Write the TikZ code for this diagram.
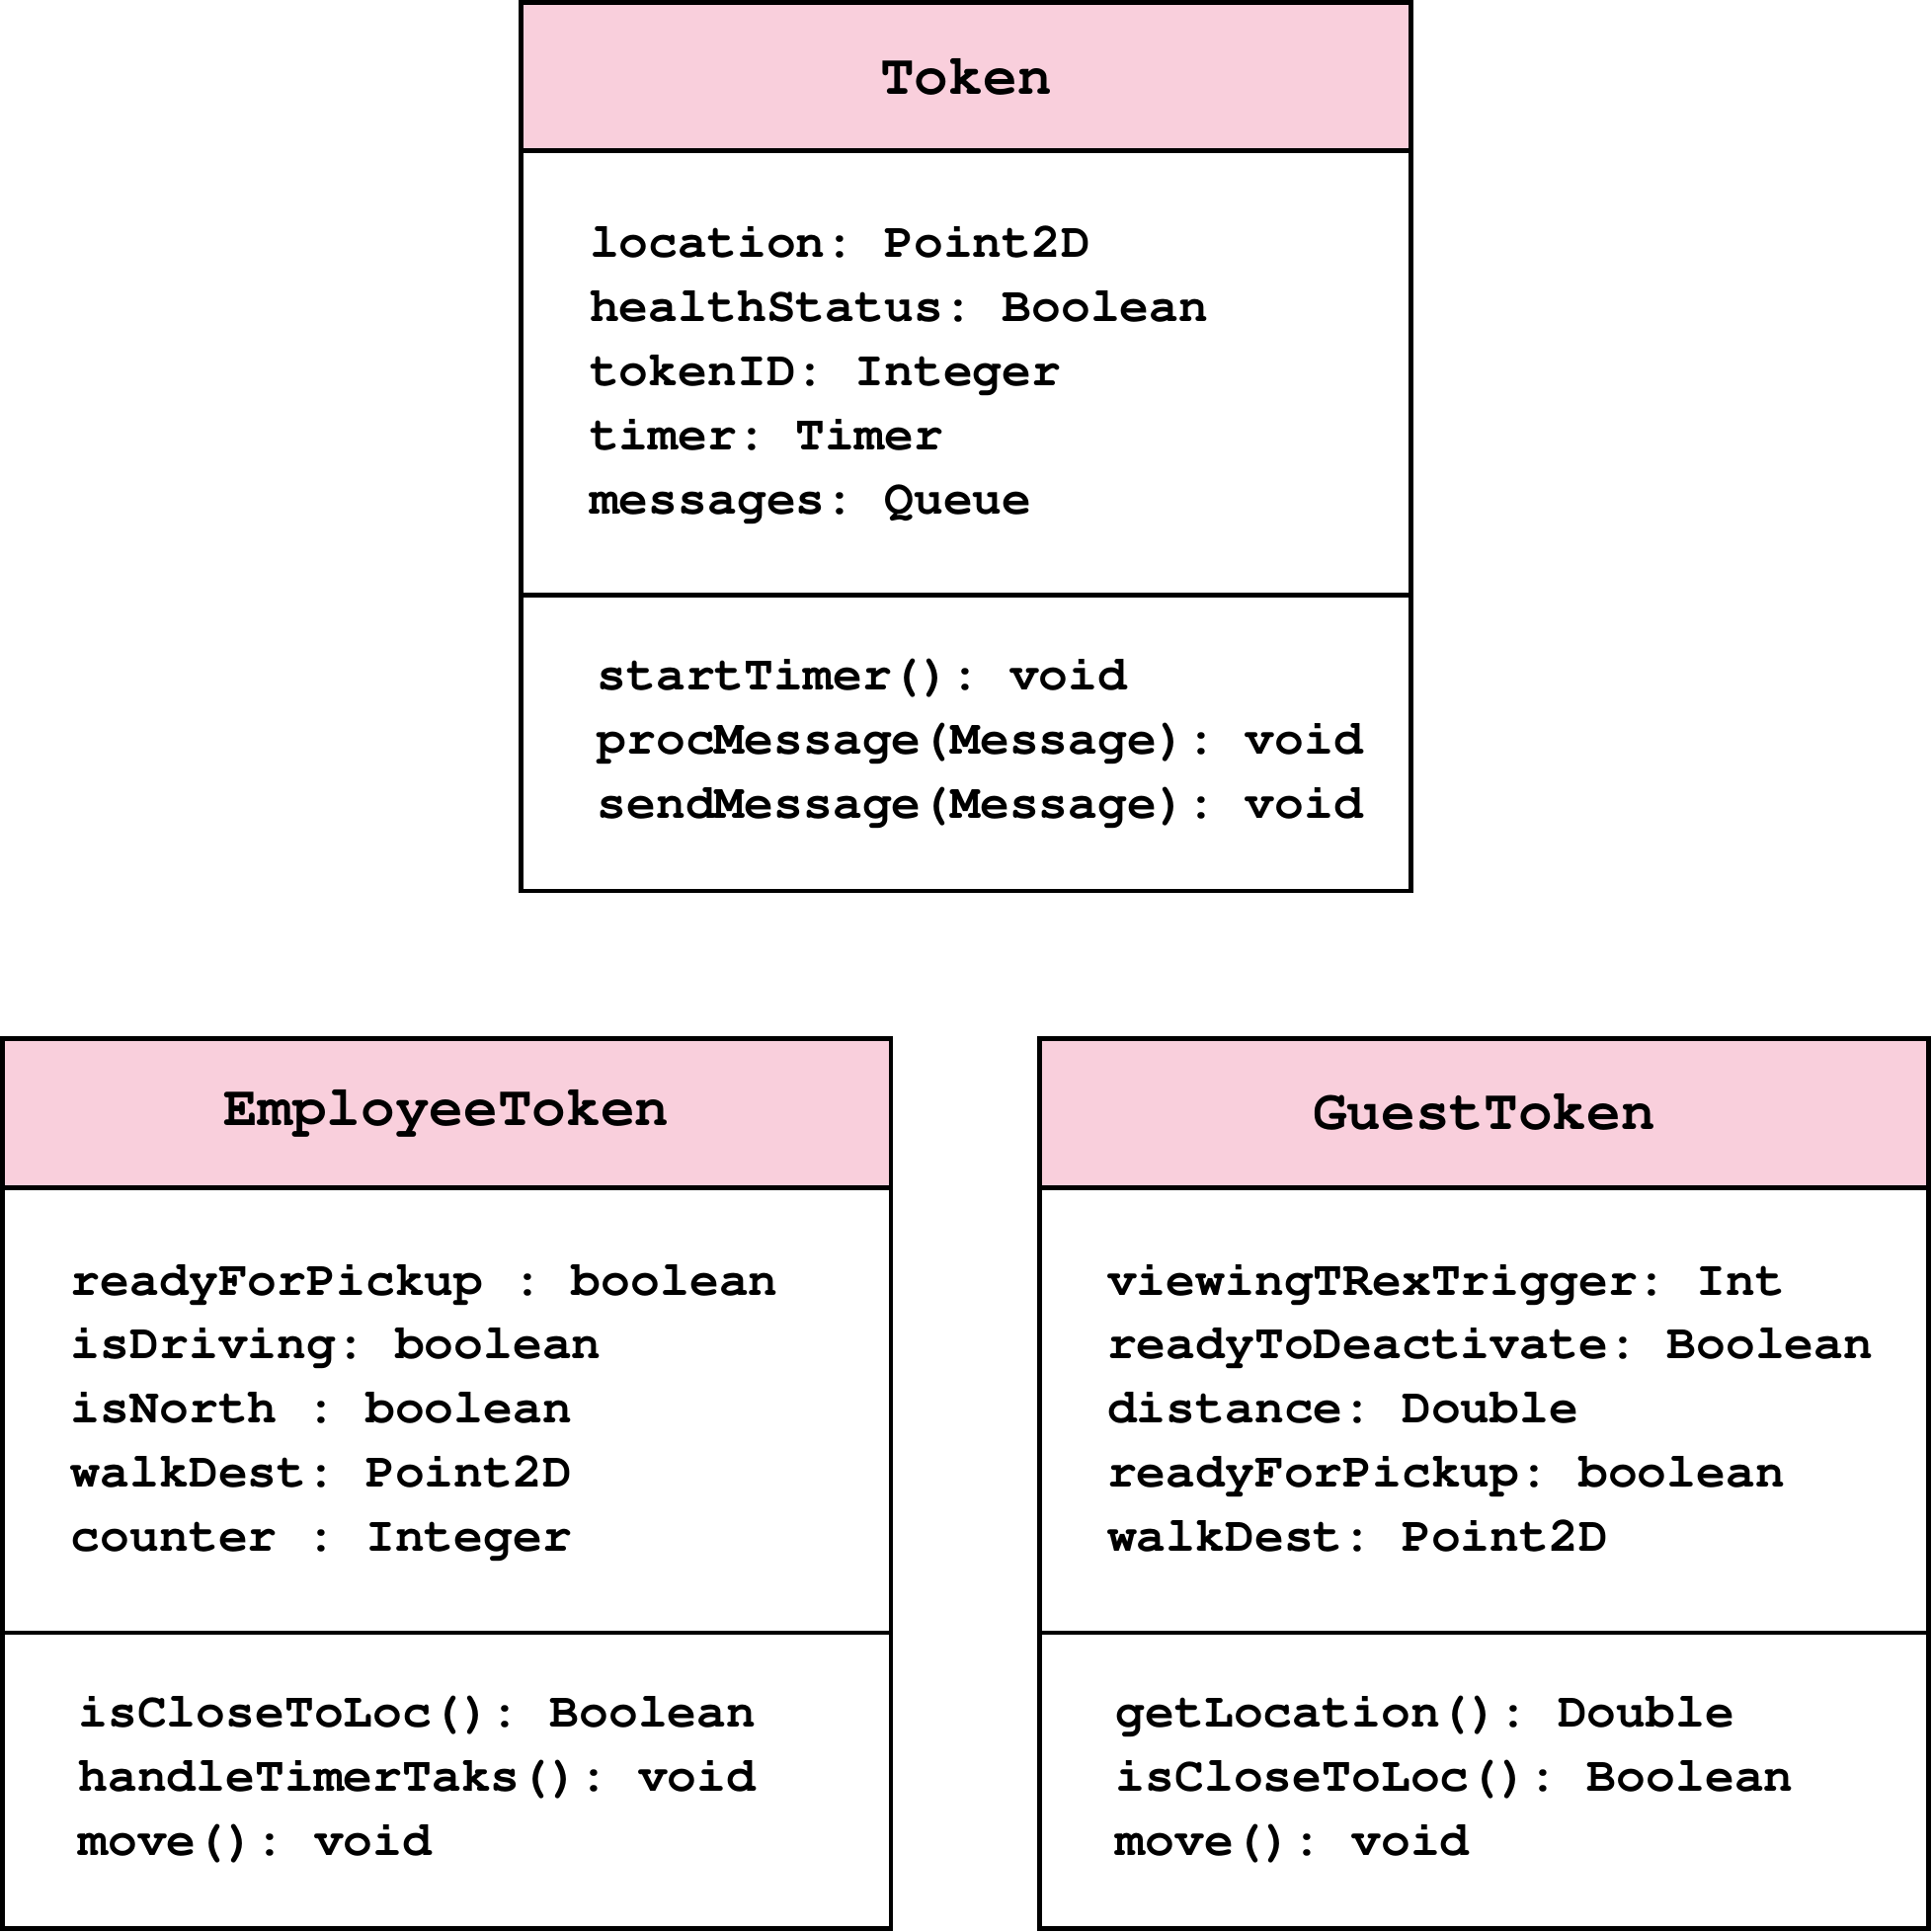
\documentclass[tikz,border=0pt]{standalone}
\usepackage[T1]{fontenc}
\definecolor{hdrpink}{RGB}{249,207,220}
\newcommand{\courb}{\fontfamily{pcr}\fontseries{b}\selectfont\frenchspacing}
\tikzset{
  boxline/.style={draw=black, line width=1.08pt},
  hdrfill/.style={fill=hdrpink},
  attr/.style={anchor=base west, inner sep=0pt, font=\fontsize{11.33}{13}\courb},
  ttl/.style={anchor=base, inner sep=0pt, font=\fontsize{13.18}{15}\courb},
}
\begin{document}
\begin{tikzpicture}[x=0.01cm,y=-0.01cm]
\useasboundingbox (0,0) rectangle (1568,1568);
% ---------- Token ----------
\fill[hdrfill] (423,2) rectangle (1145,122);
\draw[boxline] (423,2) rectangle (1145,723);
\draw[boxline] (423,122) -- (1145,122);
\draw[boxline] (423,483) -- (1145,483);
\node[ttl] (tT) at (784,76.5) {Token};
\node[attr] (tA1) at (478,209) {location: Point2D};
\node[attr] (tA2) at (478,261) {healthStatus: Boolean};
\node[attr] (tA3) at (478,313) {tokenID: Integer};
\node[attr] (tA4) at (478,365) {timer: Timer};
\node[attr] (tA5) at (478,417) {messages: Queue};
\node[attr] (tM1) at (484,560) {startTimer(): void};
\node[attr] (tM2) at (484,612) {procMessage(Message): void};
\node[attr] (tM3) at (484,664) {sendMessage(Message): void};
% ---------- EmployeeToken ----------
\fill[hdrfill] (2,843) rectangle (723,964);
\draw[boxline] (2,843) rectangle (723,1565);
\draw[boxline] (2,964) -- (723,964);
\draw[boxline] (2,1325) -- (723,1325);
\node[ttl] (eT) at (362.5,913.5) {EmployeeToken};
\node[attr] (eA1) at (57,1051) {readyForPickup : boolean};
\node[attr] (eA2) at (57,1103) {isDriving: boolean};
\node[attr] (eA3) at (57,1155) {isNorth : boolean};
\node[attr] (eA4) at (57,1207) {walkDest: Point2D};
\node[attr] (eA5) at (57,1259) {counter : Integer};
\node[attr] (eM1) at (63,1402) {isCloseToLoc(): Boolean};
\node[attr] (eM2) at (63,1454) {handleTimerTaks(): void};
\node[attr] (eM3) at (63,1506) {move(): void};
% ---------- GuestToken ----------
\fill[hdrfill] (844,843) rectangle (1565,964);
\draw[boxline] (844,843) rectangle (1565,1565);
\draw[boxline] (844,964) -- (1565,964);
\draw[boxline] (844,1325) -- (1565,1325);
\node[ttl] (gT) at (1204.5,917) {GuestToken};
\node[attr] (gA1) at (898,1051) {viewingTRexTrigger: Int};
\node[attr] (gA2) at (898,1103) {readyToDeactivate: Boolean};
\node[attr] (gA3) at (898,1155) {distance: Double};
\node[attr] (gA4) at (898,1207) {readyForPickup: boolean};
\node[attr] (gA5) at (898,1259) {walkDest: Point2D};
\node[attr] (gM1) at (905,1402) {getLocation(): Double};
\node[attr] (gM2) at (905,1454) {isCloseToLoc(): Boolean};
\node[attr] (gM3) at (905,1506) {move(): void};
\end{tikzpicture}
\end{document}
